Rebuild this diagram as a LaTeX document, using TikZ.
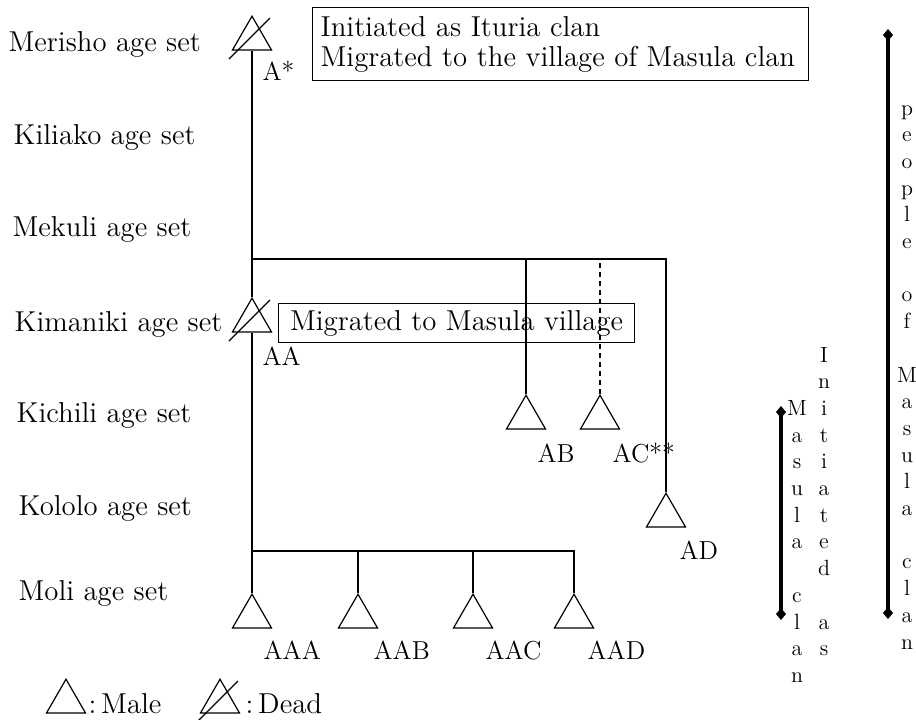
\documentclass[tikz,border=0pt]{standalone}
\usetikzlibrary{shapes.geometric,arrows.meta}

\begin{document}
\begin{tikzpicture}[x=0.5pt, y=-0.5pt, line width=0.6pt,
  male/.style={draw, regular polygon, regular polygon sides=3, minimum size=22.5pt, inner sep=0pt, anchor=corner 1},
  agelbl/.style={anchor=base west, inner sep=0pt, font=\fontsize{14.4}{17}\selectfont},
  idlbl/.style={anchor=base west, inner sep=0pt, font=\fontsize{13}{15}\selectfont},
  note/.style={draw, font=\fontsize{14.4}{15}\selectfont, align=left},
  vletter/.style={anchor=base, inner sep=0pt, font=\fontsize{11}{13}\selectfont},
  bar/.style={line width=2pt, {Diamond[length=6pt,width=5pt]}-{Diamond[length=6pt,width=5pt]}}]
\def\deadmark#1{\draw ([shift={(-23,44)}]#1.corner 1) -- ([shift={(18,3)}]#1.corner 1);}
\useasboundingbox (0,0) rectangle (916,719);

\node[agelbl] (merisho) at (8,51) {Merisho age set};
\node[agelbl] (kiliako) at (13,144) {Kiliako age set};
\node[agelbl] (mekuli) at (12,236) {Mekuli age set};
\node[agelbl] (kimaniki) at (14,331) {Kimaniki age set};
\node[agelbl] (kichili) at (16,422) {Kichili age set};
\node[agelbl] (kololo) at (18,515) {Kololo age set};
\node[agelbl] (moli) at (18,600) {Moli age set};

\node[male] (a) at (252,15) {};
\deadmark{a}
\node[idlbl] (albl) at (262,80) {A*};
\node[note, text width=240pt, inner xsep=4pt, minimum height=36.5pt, anchor=north west] (mignote) at (312,7)
  {Initiated as Ituria clan\\Migrated to the village of Masula clan};

\node[male] (aa) at (252,297) {};
\deadmark{aa}
\node[idlbl] (aalbl) at (262,365) {AA};
\node[note, minimum width=178pt, minimum height=19pt, anchor=north west] (vilnote) at (278,303)
  {Migrated to Masula village};

\node[male] (ab) at (526,394) {};
\node[idlbl] (ablbl) at (537,462) {AB};
\node[male] (ac) at (600,394) {};
\node[idlbl] (aclbl) at (612,462) {AC**};
\node[male] (ad) at (666,492) {};
\node[idlbl] (adlbl) at (679,559) {AD};

\node[male] (aaa) at (252,593) {};
\node[idlbl] (aaalbl) at (263,659) {AAA};
\node[male] (aab) at (358,593) {};
\node[idlbl] (aablbl) at (373,659) {AAB};
\node[male] (aac) at (473,593) {};
\node[idlbl] (aaclbl) at (485,659) {AAC};
\node[male] (aad) at (574,593) {};
\node[idlbl] (aadlbl) at (587,659) {AAD};

\coordinate (j1) at (252,259);
\coordinate (j2) at (252,551);
\draw (a.side 2) -- (aa.corner 1);
\draw (j1) -| (ad.corner 1);
\draw (ab.corner 1) -- (ab.corner 1 |- j1);
\draw[dash pattern=on 2.5pt off 2pt] (ac.corner 1) -- (ac.corner 1 |- j1);
\draw (aa.side 2) -- (aaa.corner 1);
\draw (j2) -| (aad.corner 1);
\draw (aab.corner 1) -- (aab.corner 1 |- j2);
\draw (aac.corner 1) -- (aac.corner 1 |- j2);

\coordinate (clantop) at (888,29);
\coordinate (clanbot) at (888,619);
\coordinate (inittop) at (781,406);
\coordinate (initbot) at (781,620);
\draw[bar] (clantop) -- (clanbot);
\draw[bar] (inittop) -- (initbot);

\foreach \ch [count=\i from 0] in {p,e,o,p,l,e,{},o,f,{},M,a,s,u,l,a,{},c,l,a,n}
  \node[vletter] (ppl\i) at (907,{115+26.7*\i}) {\ch};
\foreach \ch [count=\i from 0] in {I,n,i,t,i,a,t,e,d,{},a,s}
  \node[vletter] (ini\i) at (824,{362+26.7*\i}) {\ch};
\foreach \ch [count=\i from 0] in {M,a,s,u,l,a,{},c,l,a,n}
  \node[vletter] (msl\i) at (797,{415.4+26.7*\i}) {\ch};

\node[male] (keymale) at (66,678) {};
\node[agelbl] (keymalelbl) at (88,713) {:\,Male};
\node[male] (keydead) at (220,678) {};
\deadmark{keydead}
\node[agelbl] (keydeadlbl) at (245,713) {:\,Dead};
\end{tikzpicture}
\end{document}
